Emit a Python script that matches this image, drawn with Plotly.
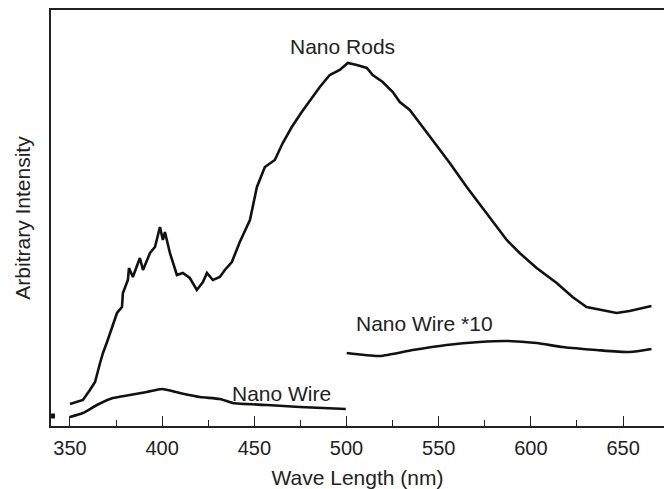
import plotly.graph_objects as go

# Nano Rods spectrum (wavelength nm, arbitrary intensity)
rods_x = [350, 357.0, 360.8, 363.6, 366.3, 367.9, 370.1, 372.8, 375.5, 378.2, 378.7, 381.4, 382.0, 384.1,
          387.9, 389.6, 393.4, 396.1, 398.8, 400.4, 401.5, 404.2, 408.0, 411.2, 415.0, 418.8, 422.1, 424.3,
          427.5, 431.3, 434.0, 437.8, 440.5, 442.1, 447.6, 451.4, 455.7, 461.1, 465.4, 470.3, 475.7, 481.7,
          485.5, 490.9, 496.3, 500.7, 505.6, 511.0, 514.2, 519.6, 525.1, 528.9, 534.3, 541.3, 548.9, 556.0,
          565.2, 573.8, 583.1, 586.9, 593.9, 603.1, 614.0, 622.6, 630.2, 635.6, 646.5, 653.5, 665.4]
rods_y = [12, 16, 26, 34, 53, 63, 74, 89, 103, 109, 123, 136, 148, 139,
          158, 146, 163, 169, 189, 176, 184, 163, 141, 143, 138, 126, 134, 143,
          136, 139, 146, 154, 166, 174, 196, 229, 249, 256, 273, 289, 304, 319,
          329, 341, 346, 353, 351, 348, 341, 334, 324, 314, 306, 289, 271, 253,
          229, 208, 186, 176, 163, 148, 133, 119, 109, 107, 103, 105, 110]

# Nano Wire spectrum
wire_x = [350, 357.0, 364.6, 373.3, 382.5, 391.7, 399.9, 409.6, 420.5, 431.3, 438.3, 456.8, 474.7, 499.6]
wire_y = [-1, 3, 11, 18, 21, 24, 27, 23, 19, 17, 13, 11, 9, 7]

# Nano Wire x10 spectrum
wire10_x = [500.1, 518.0, 535.9, 554.3, 572.2, 586.9, 603.1, 617.2, 635.6, 653.5, 665.4]
wire10_y = [63, 60, 66, 71, 74, 75, 73, 69, 66, 64, 67]

x_ticks = [350, 400, 450, 500, 550, 600, 650]
x_range = [339.7, 672.2]
y_range = [-10, 406]

line_color = "#111111"
font_family = "Liberation Sans, Arial, sans-serif"

fig = go.Figure()
fig.add_trace(go.Scatter(x=rods_x, y=rods_y, mode="lines",
                         line=dict(color=line_color, width=2.6), showlegend=False))
for xs, ys in [(wire_x, wire_y), (wire10_x, wire10_y)]:
    fig.add_trace(go.Scatter(x=xs, y=ys, mode="lines",
                             line=dict(color=line_color, width=2.6, shape="spline", smoothing=0.6),
                             showlegend=False))

fig.add_trace(go.Scatter(x=[x_range[0] + 0.8], y=[0], mode="markers",
                         marker=dict(symbol="square", size=5, color="#111111"),
                         cliponaxis=False, showlegend=False))

labels = [("Nano Rods", 498, 370), ("Nano Wire *10", 542.4, 93), ("Nano Wire", 464.9, 23)]
for text, x, y in labels:
    fig.add_annotation(x=x, y=y, text=text, showarrow=False,
                       font=dict(size=21, color="#222222", family=font_family))

fig.update_layout(
    width=664, height=489,
    margin=dict(l=51, r=0, t=10, b=63),
    paper_bgcolor="white", plot_bgcolor="white",
    font=dict(family=font_family, size=20, color="#222222"),
    xaxis=dict(range=x_range, tickvals=x_ticks, ticks="inside", ticklen=10, tickwidth=1.3,
               tickcolor="#222222", showline=True, linecolor="#222222", linewidth=1.8,
               mirror=True, showgrid=False, zeroline=False, ticklabelstandoff=3,
               minor=dict(dtick=25, tick0=350, ticks="inside", ticklen=6, tickwidth=1.3,
                          tickcolor="#222222", showgrid=False),
               tickfont=dict(size=20, color="#222222"),
               title=dict(text="Wave Length (nm)", font=dict(size=21, color="#222222"), standoff=14)),
    yaxis=dict(range=y_range, showticklabels=False, ticks="", showline=True, linecolor="#222222",
               linewidth=1.8, showgrid=False, zeroline=False,
               title=dict(text="Arbitrary Intensity", font=dict(size=21, color="#222222"), standoff=13)),
)

fig.write_html("out.html")
